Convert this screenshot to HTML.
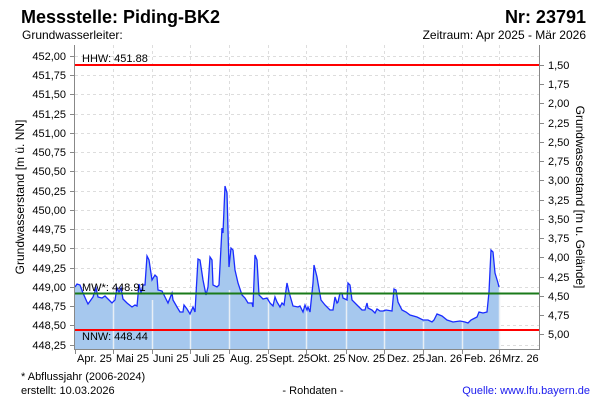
<!DOCTYPE html>
<html><head><meta charset="utf-8"><style>
body{margin:0;background:#fff;}
svg{display:block;font-family:"Liberation Sans",sans-serif;}
</style></head><body>
<svg width="600" height="400" viewBox="0 0 600 400" xmlns="http://www.w3.org/2000/svg">
<text x="21" y="23" font-size="18" font-weight="bold">Messstelle: Piding-BK2</text>
<text x="586" y="23" font-size="18" font-weight="bold" text-anchor="end">Nr: 23791</text>
<text x="22" y="39" font-size="12">Grundwasserleiter:</text>
<text x="586" y="39" font-size="12" text-anchor="end">Zeitraum: Apr 2025 - Mär 2026</text>
<g stroke="#ddd" stroke-dasharray="3,3" stroke-width="1">
<line x1="75" x2="539" y1="56.5" y2="56.5"/><line x1="75" x2="539" y1="75.5" y2="75.5"/><line x1="75" x2="539" y1="94.5" y2="94.5"/><line x1="75" x2="539" y1="114.5" y2="114.5"/><line x1="75" x2="539" y1="133.5" y2="133.5"/><line x1="75" x2="539" y1="152.5" y2="152.5"/><line x1="75" x2="539" y1="171.5" y2="171.5"/><line x1="75" x2="539" y1="191.5" y2="191.5"/><line x1="75" x2="539" y1="210.5" y2="210.5"/><line x1="75" x2="539" y1="229.5" y2="229.5"/><line x1="75" x2="539" y1="248.5" y2="248.5"/><line x1="75" x2="539" y1="268.5" y2="268.5"/><line x1="75" x2="539" y1="287.5" y2="287.5"/><line x1="75" x2="539" y1="306.5" y2="306.5"/><line x1="75" x2="539" y1="325.5" y2="325.5"/><line x1="75" x2="539" y1="345.5" y2="345.5"/>
<line y1="45" y2="350" x1="113.5" x2="113.5"/><line y1="45" y2="350" x1="152.5" x2="152.5"/><line y1="45" y2="350" x1="190.5" x2="190.5"/><line y1="45" y2="350" x1="229.5" x2="229.5"/><line y1="45" y2="350" x1="268.5" x2="268.5"/><line y1="45" y2="350" x1="306.5" x2="306.5"/><line y1="45" y2="350" x1="346.5" x2="346.5"/><line y1="45" y2="350" x1="384.5" x2="384.5"/><line y1="45" y2="350" x1="423.5" x2="423.5"/><line y1="45" y2="350" x1="462.5" x2="462.5"/><line y1="45" y2="350" x1="499.5" x2="499.5"/>
</g>
<path fill="#a6c8ee" stroke="none" d="M75,350 L75,287 77,284 80,285 83,293 87,302 88,304 93,297 96,288 98,297 102,298 105,296 108,299 112,303 115,300 117,288 119,292 121,288 123,299 127,303 132,307 135,305 137,306 139,284 141,293 143,285 145,285 147,256 149,260 152,280 155,275 157,277 158,290 162,291 165,297 168,303 172,293 173,300 177,307 180,312 183,312 184,305 187,309 190,314 193,307 195,312 198,259 200,260 203,280 206,295 208,287 210,257 212,260 213,285 217,287 219,285 222,228 223,233 225,186 227,193 229,267 231,248 233,250 235,270 238,283 242,295 245,298 248,303 252,303 253,307 255,255 257,260 259,295 263,299 267,298 270,303 273,306 275,297 277,302 280,307 282,303 284,305 287,283 289,292 293,306 298,307 300,306 303,312 305,305 307,310 308,307 310,312 313,283 314,265 317,277 318,283 321,300 325,305 330,310 333,310 335,297 337,303 338,302 340,293 342,293 343,298 347,300 348,283 350,285 352,300 357,305 362,310 365,310 367,303 368,308 372,310 375,313 377,309 380,311 383,311 386,310 392,311 394,289 396,290 398,302 402,310 406,312 410,315 417,317 423,320 428,320 432,322 434,320 437,314 442,316 447,320 453,322 460,321 465,322 468,323 471,320 473,319 477,317 479,312 483,313 487,312 489,292 491,250 493,252 495,273 498,283 499,287 L499,350 Z"/>
<g stroke="#e8eef5" stroke-width="1.5">
<line y1="300" y2="350" x1="113.5" x2="113.5"/><line y1="300" y2="350" x1="152.5" x2="152.5"/><line y1="310" y2="350" x1="190.5" x2="190.5"/><line y1="290" y2="350" x1="229.5" x2="229.5"/><line y1="300" y2="350" x1="268.5" x2="268.5"/><line y1="310" y2="350" x1="306.5" x2="306.5"/><line y1="300" y2="350" x1="346.5" x2="346.5"/><line y1="312" y2="350" x1="384.5" x2="384.5"/><line y1="322" y2="350" x1="423.5" x2="423.5"/><line y1="322" y2="350" x1="462.5" x2="462.5"/><line y1="290" y2="350" x1="499.5" x2="499.5"/>
</g>
<polyline fill="none" stroke="#1a2cff" stroke-width="1.3" points="75,287 77,284 80,285 83,293 87,302 88,304 93,297 96,288 98,297 102,298 105,296 108,299 112,303 115,300 117,288 119,292 121,288 123,299 127,303 132,307 135,305 137,306 139,284 141,293 143,285 145,285 147,256 149,260 152,280 155,275 157,277 158,290 162,291 165,297 168,303 172,293 173,300 177,307 180,312 183,312 184,305 187,309 190,314 193,307 195,312 198,259 200,260 203,280 206,295 208,287 210,257 212,260 213,285 217,287 219,285 222,228 223,233 225,186 227,193 229,267 231,248 233,250 235,270 238,283 242,295 245,298 248,303 252,303 253,307 255,255 257,260 259,295 263,299 267,298 270,303 273,306 275,297 277,302 280,307 282,303 284,305 287,283 289,292 293,306 298,307 300,306 303,312 305,305 307,310 308,307 310,312 313,283 314,265 317,277 318,283 321,300 325,305 330,310 333,310 335,297 337,303 338,302 340,293 342,293 343,298 347,300 348,283 350,285 352,300 357,305 362,310 365,310 367,303 368,308 372,310 375,313 377,309 380,311 383,311 386,310 392,311 394,289 396,290 398,302 402,310 406,312 410,315 417,317 423,320 428,320 432,322 434,320 437,314 442,316 447,320 453,322 460,321 465,322 468,323 471,320 473,319 477,317 479,312 483,313 487,312 489,292 491,250 493,252 495,273 498,283 499,287"/>
<line x1="75" x2="539" y1="65" y2="65" stroke="#f00" stroke-width="2"/>
<line x1="75" x2="539" y1="293.5" y2="293.5" stroke="#1a7a1a" stroke-width="2"/>
<line x1="75" x2="539" y1="330" y2="330" stroke="#f00" stroke-width="2"/>
<g font-size="11">
<text x="82" y="62">HHW: 451.88</text>
<text x="82" y="291">MW*: 448.91</text>
<text x="82" y="340">NNW: 448.44</text>
</g>
<g stroke="#888" stroke-width="1" fill="none">
<line x1="74.5" x2="74.5" y1="45" y2="350"/><line x1="539.5" x2="539.5" y1="45" y2="350"/><line x1="74" x2="540" y1="349.5" y2="349.5"/>
</g>
<g stroke="#888">
<line x1="70" x2="74" y1="56.5" y2="56.5"/><line x1="70" x2="74" y1="75.5" y2="75.5"/><line x1="70" x2="74" y1="94.5" y2="94.5"/><line x1="70" x2="74" y1="114.5" y2="114.5"/><line x1="70" x2="74" y1="133.5" y2="133.5"/><line x1="70" x2="74" y1="152.5" y2="152.5"/><line x1="70" x2="74" y1="171.5" y2="171.5"/><line x1="70" x2="74" y1="191.5" y2="191.5"/><line x1="70" x2="74" y1="210.5" y2="210.5"/><line x1="70" x2="74" y1="229.5" y2="229.5"/><line x1="70" x2="74" y1="248.5" y2="248.5"/><line x1="70" x2="74" y1="268.5" y2="268.5"/><line x1="70" x2="74" y1="287.5" y2="287.5"/><line x1="70" x2="74" y1="306.5" y2="306.5"/><line x1="70" x2="74" y1="325.5" y2="325.5"/><line x1="70" x2="74" y1="345.5" y2="345.5"/>
<line x1="540" x2="544" y1="65.5" y2="65.5"/><line x1="540" x2="544" y1="84.5" y2="84.5"/><line x1="540" x2="544" y1="103.5" y2="103.5"/><line x1="540" x2="544" y1="123.5" y2="123.5"/><line x1="540" x2="544" y1="142.5" y2="142.5"/><line x1="540" x2="544" y1="161.5" y2="161.5"/><line x1="540" x2="544" y1="180.5" y2="180.5"/><line x1="540" x2="544" y1="200.5" y2="200.5"/><line x1="540" x2="544" y1="219.5" y2="219.5"/><line x1="540" x2="544" y1="238.5" y2="238.5"/><line x1="540" x2="544" y1="257.5" y2="257.5"/><line x1="540" x2="544" y1="277.5" y2="277.5"/><line x1="540" x2="544" y1="296.5" y2="296.5"/><line x1="540" x2="544" y1="315.5" y2="315.5"/><line x1="540" x2="544" y1="334.5" y2="334.5"/>
<line y1="350" y2="354" x1="75.5" x2="75.5"/><line y1="350" y2="354" x1="113.5" x2="113.5"/><line y1="350" y2="354" x1="152.5" x2="152.5"/><line y1="350" y2="354" x1="190.5" x2="190.5"/><line y1="350" y2="354" x1="229.5" x2="229.5"/><line y1="350" y2="354" x1="268.5" x2="268.5"/><line y1="350" y2="354" x1="306.5" x2="306.5"/><line y1="350" y2="354" x1="346.5" x2="346.5"/><line y1="350" y2="354" x1="384.5" x2="384.5"/><line y1="350" y2="354" x1="423.5" x2="423.5"/><line y1="350" y2="354" x1="462.5" x2="462.5"/><line y1="350" y2="354" x1="499.5" x2="499.5"/>
</g>
<g font-size="11" text-anchor="end">
<text x="66" y="60">452,00</text><text x="66" y="79">451,75</text><text x="66" y="98">451,50</text><text x="66" y="118">451,25</text><text x="66" y="137">451,00</text><text x="66" y="156">450,75</text><text x="66" y="175">450,50</text><text x="66" y="195">450,25</text><text x="66" y="214">450,00</text><text x="66" y="233">449,75</text><text x="66" y="252">449,50</text><text x="66" y="272">449,25</text><text x="66" y="291">449,00</text><text x="66" y="310">448,75</text><text x="66" y="329">448,50</text><text x="66" y="349">448,25</text>
</g>
<g font-size="11">
<text x="548" y="69">1,50</text><text x="548" y="88">1,75</text><text x="548" y="107">2,00</text><text x="548" y="127">2,25</text><text x="548" y="146">2,50</text><text x="548" y="165">2,75</text><text x="548" y="184">3,00</text><text x="548" y="204">3,25</text><text x="548" y="223">3,50</text><text x="548" y="242">3,75</text><text x="548" y="261">4,00</text><text x="548" y="281">4,25</text><text x="548" y="300">4,50</text><text x="548" y="319">4,75</text><text x="548" y="338">5,00</text>
</g>
<g font-size="11">
<text x="77" y="362">Apr. 25</text><text x="116" y="362">Mai 25</text><text x="153" y="362">Juni 25</text><text x="193" y="362">Juli 25</text><text x="230" y="362">Aug. 25</text><text x="269" y="362">Sept. 25</text><text x="310" y="362">Okt. 25</text><text x="348" y="362">Nov. 25</text><text x="387" y="362">Dez. 25</text><text x="426" y="362">Jan. 26</text><text x="464" y="362">Feb. 26</text><text x="502" y="362">Mrz. 26</text>
</g>
<text font-size="12" transform="translate(24,197) rotate(-90)" text-anchor="middle">Grundwasserstand [m ü. NN]</text>
<text font-size="12" transform="translate(576,197) rotate(90)" text-anchor="middle">Grundwasserstand [m u. Gelände]</text>
<text x="21" y="380" font-size="11">* Abflussjahr (2006-2024)</text>
<text x="21" y="394" font-size="11">erstellt:  10.03.2026</text>
<text x="313" y="394" font-size="11" text-anchor="middle">- Rohdaten -</text>
<text x="590" y="394" font-size="11" text-anchor="end" fill="#1a1aee">Quelle: www.lfu.bayern.de</text>
</svg>
</body></html>
